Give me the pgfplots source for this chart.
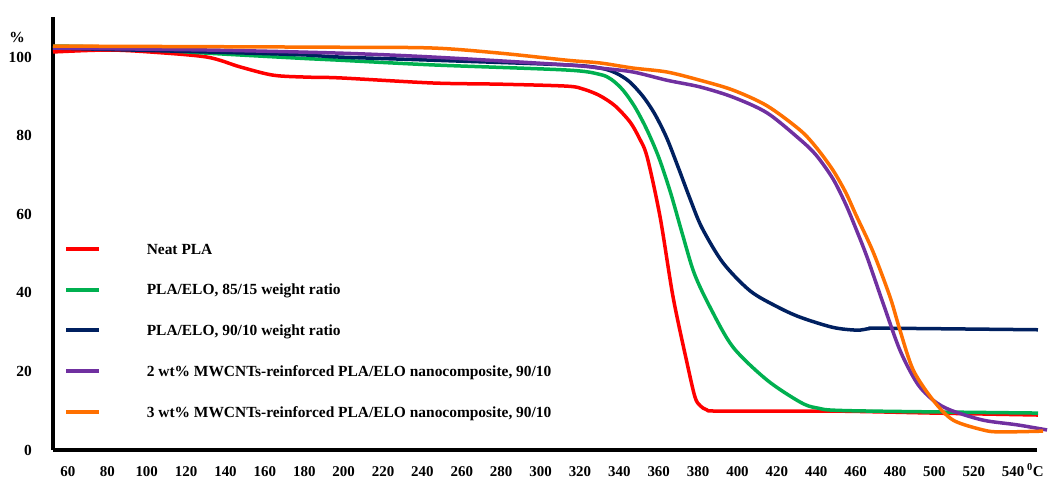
\documentclass[border=0pt]{standalone}
\usepackage{fontspec}
\setmainfont{Liberation Serif}
\usepackage{pgfplots}
\pgfplotsset{compat=1.18}
\definecolor{cred}{RGB}{255,0,0}
\definecolor{cgreen}{RGB}{0,176,80}
\definecolor{cnavy}{RGB}{0,32,96}
\definecolor{cpurple}{RGB}{112,48,160}
\definecolor{corange}{RGB}{255,112,0}
\begin{document}
\begin{tikzpicture}
\useasboundingbox (0,0) rectangle (1051bp,480bp);
\begin{axis}[
  at={(53bp,30bp)}, anchor=south west,
  scale only axis, width=984bp, height=433bp,
  xmin=52.4, xmax=552.1, ymin=0, ymax=110.2,
  axis x line*=bottom, axis y line*=left,
  axis line style={line width=3.5bp, black, -},
  major tick length=0pt,
  xtick={60,80,...,540}, ytick={0,20,...,100},
  /pgf/number format/assume math mode=true,
  xticklabel style={font=\bfseries\fontsize{15}{17}\selectfont, inner sep=0pt, anchor=base, yshift=-26bp},
  yticklabel style={font=\bfseries\fontsize{15.5}{18}\selectfont, inner sep=0pt, xshift=-21bp},
  clip=false,
  every axis plot/.append style={line width=3.5bp, smooth, tension=0.5, line join=round},
  legend cell align=left,
  legend style={at={(0.0112,0.4758)}, anchor=north west, draw=none, fill=none,
    inner sep=0pt, outer sep=0pt, row sep=28.5bp, column sep=0pt,
    font=\bfseries\fontsize{15.5}{18}\selectfont,
    nodes={inner sep=0pt}},
  legend image code/.code={\draw[#1, line width=4bp, smooth=false] (0bp,0.5bp) -- (33bp,0.5bp); \path (79bp,0bp);},
]
\addplot[cred] coordinates {
(52.4,101.3) (79.8,101.8) (101.6,101.3) (130.6,100.0) (147.4,97.5) (164.1,95.4) (181.0,94.9)
(198.1,94.7) (245.4,93.4) (279.4,93.1) (313.4,92.6) (322.0,91.8) (330.0,90.2) (337.8,87.6)
(345.4,83.5) (350.0,79.5) (354.1,74.6) (360.7,59.3) (367.3,38.9) (374.4,22.1) (378.4,13.5)
(381.0,11.3) (384.5,10.2) (391.1,9.9) (448.5,9.9) (499.3,9.4) (552.6,8.9)
};
\addlegendentry{Neat PLA}
\addplot[cgreen] coordinates {
(52.4,102.8) (79.8,102.5) (130.6,101.0) (177.8,99.7) (198.1,99.2) (245.4,98.0) (313.4,96.7)
(330.0,95.6) (336.0,94.3) (342.0,91.5) (348.0,87.2) (354.0,81.5) (360.0,74.5) (366.0,65.5)
(372.0,55.0) (378.0,45.0) (386.0,36.4) (397.7,26.2) (415.0,17.8) (431.8,12.2) (440.4,10.7)
(457.0,10.0) (552.6,9.4)
};
\addlegendentry{PLA/ELO, 85/15 weight ratio}
\addplot[cnavy] coordinates {
(52.4,102.3) (130.6,101.3) (177.8,100.6) (198.1,100.0) (245.4,99.2) (313.4,98.0) (330.2,97.2)
(338.0,96.0) (345.0,93.8) (352.0,90.0) (358.0,85.5) (364.0,79.5) (370.0,71.8) (376.0,63.8)
(382.0,56.5) (392.7,47.6) (406.4,40.5) (420.0,36.5) (431.8,33.8) (448.5,31.2) (460.7,30.5)
(467.0,30.9) (473.9,31.0) (552.6,30.6)
};
\addlegendentry{PLA/ELO, 90/10 weight ratio}
\addplot[cpurple] coordinates {
(52.4,102.3) (130.6,101.8) (198.1,101.0) (245.4,100.0) (313.4,98.0) (330.2,97.2) (347.0,96.2)
(364.2,94.1) (381.0,92.4) (397.7,89.8) (415.0,85.8) (431.8,79.0) (440.0,75.0) (448.5,69.0)
(455.0,62.5) (460.0,56.5) (465.8,49.1) (473.9,37.4) (482.5,25.4) (491.2,17.0) (499.3,12.7)
(507.9,10.2) (524.7,7.6) (542.0,6.4) (557.2,5.1)
};
\addlegendentry{2 wt\% MWCNTs-reinforced PLA/ELO nanocomposite, 90/10}
\addplot[corange] coordinates {
(52.4,102.8) (198.1,102.5) (245.4,102.3) (279.4,101.0) (313.4,99.2) (330.2,98.5) (347.0,97.2)
(364.2,96.2) (381.0,94.1) (397.7,91.6) (415.0,87.6) (431.8,81.4) (440.0,77.0) (448.5,71.2)
(455.0,65.5) (460.0,60.0) (468.8,50.5) (477.5,38.9) (482.5,30.5) (489.2,20.4) (499.3,12.7)
(509.5,7.6) (524.7,5.1) (533.3,4.6) (555.2,4.8)
};
\addlegendentry{3 wt\% MWCNTs-reinforced PLA/ELO nanocomposite, 90/10}
\end{axis}
\node[font=\bfseries\fontsize{15.5}{18}\selectfont, inner sep=0pt] at (17bp,443bp) {\%};
\node[font=\bfseries\fontsize{15}{17}\selectfont, inner sep=0pt, anchor=base west] at (1027bp,4bp) {\textsuperscript{0}C};
\end{tikzpicture}
\end{document}
